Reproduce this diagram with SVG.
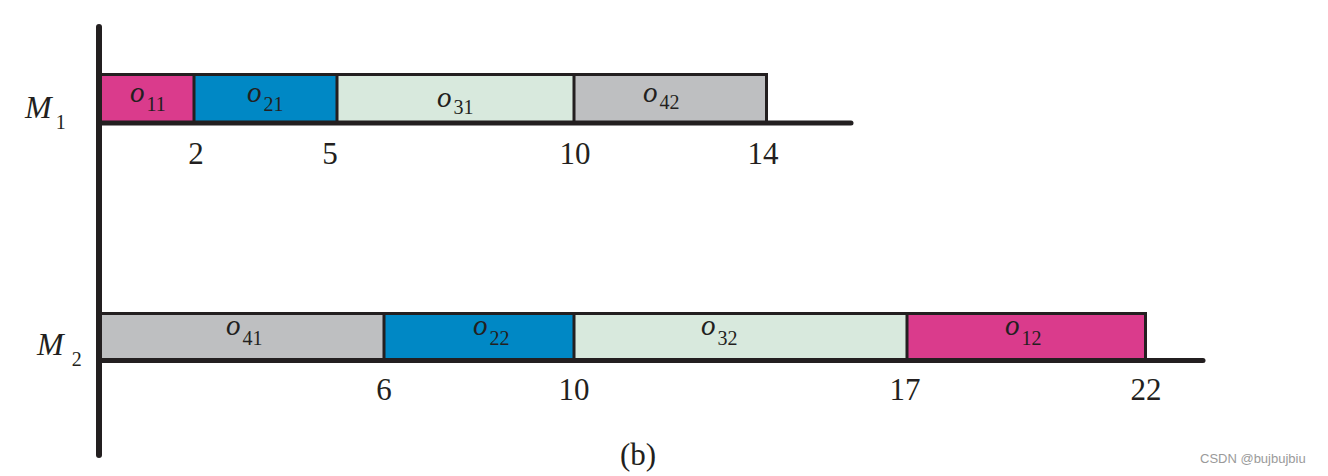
<svg xmlns="http://www.w3.org/2000/svg" width="1328" height="476" viewBox="0 0 1328 476">
<style>
.ln{stroke:#231F20;fill:none}
.thin{stroke-width:3}
.base{stroke-width:5;stroke-linecap:round}
.op{font-family:"Liberation Serif",serif;font-style:italic;font-size:29px;fill:#231F20}
.sub{font-style:normal;font-size:20px}
.num{font-family:"Liberation Serif",serif;font-size:31px;fill:#231F20;text-anchor:middle}
.m{font-family:"Liberation Serif",serif;font-style:italic;font-size:32px;fill:#231F20}
.pink{fill:#DA3B8C}.blue{fill:#0088C5}.green{fill:#D8E9DD}.gray{fill:#BEBFC1}
</style>
<rect width="1328" height="476" fill="#fff"/>
<g id="m1-row">
<rect class="pink" x="99" y="74" width="95" height="49"/>
<rect class="blue" x="194" y="74" width="143" height="49"/>
<rect class="green" x="337" y="74" width="237" height="49"/>
<rect class="gray" x="574" y="74" width="191" height="49"/>
<path class="ln thin" d="M99 74.5H766.5V123M194 74V123M337 74V123M574 74V123"/>
<path class="ln base" d="M99 123H851"/>
<text class="op" x="130" y="102">o<tspan class="sub" dx="2" dy="9">11</tspan></text>
<text class="op" x="247" y="102">o<tspan class="sub" dx="2" dy="9">21</tspan></text>
<text class="op" x="437" y="107">o<tspan class="sub" dx="2" dy="7">31</tspan></text>
<text class="op" x="643" y="102">o<tspan class="sub" dx="2" dy="7">42</tspan></text>
<text class="m" x="25" y="118">M<tspan font-style="normal" font-size="20" dx="4" dy="11">1</tspan></text>
<text class="num" x="196" y="164">2</text>
<text class="num" x="330" y="164">5</text>
<text class="num" x="575" y="164">10</text>
<text class="num" x="763" y="164">14</text>
</g>
<g id="m2-row">
<rect class="gray" x="99" y="313" width="285" height="47"/>
<rect class="blue" x="384" y="313" width="190" height="47"/>
<rect class="green" x="574" y="313" width="333" height="47"/>
<rect class="pink" x="907" y="313" width="237" height="47"/>
<path class="ln thin" d="M99 313.5H1145.5V360M384 313V360M574 313V360M907 313V360"/>
<path class="ln base" d="M99 360.5H1203"/>
<text class="op" x="226" y="335">o<tspan class="sub" dx="2" dy="10">41</tspan></text>
<text class="op" x="473" y="335">o<tspan class="sub" dx="2" dy="10">22</tspan></text>
<text class="op" x="701" y="335">o<tspan class="sub" dx="2" dy="10">32</tspan></text>
<text class="op" x="1005" y="335">o<tspan class="sub" dx="2" dy="10">12</tspan></text>
<text class="m" x="37" y="355">M<tspan font-style="normal" font-size="20" dx="8" dy="11">2</tspan></text>
<text class="num" x="384" y="400">6</text>
<text class="num" x="574" y="400">10</text>
<text class="num" x="905" y="400">17</text>
<text class="num" x="1146" y="400">22</text>
</g>
<g id="axis">
<path class="ln" stroke-width="6" stroke-linecap="round" d="M99 27V455"/>
</g>
<text class="num" x="638" y="465">(b)</text>
<text x="1200" y="463" font-family="Liberation Sans,Arial,sans-serif" font-size="13" fill="#9a9a9a">CSDN @bujbujbiu</text>
</svg>
